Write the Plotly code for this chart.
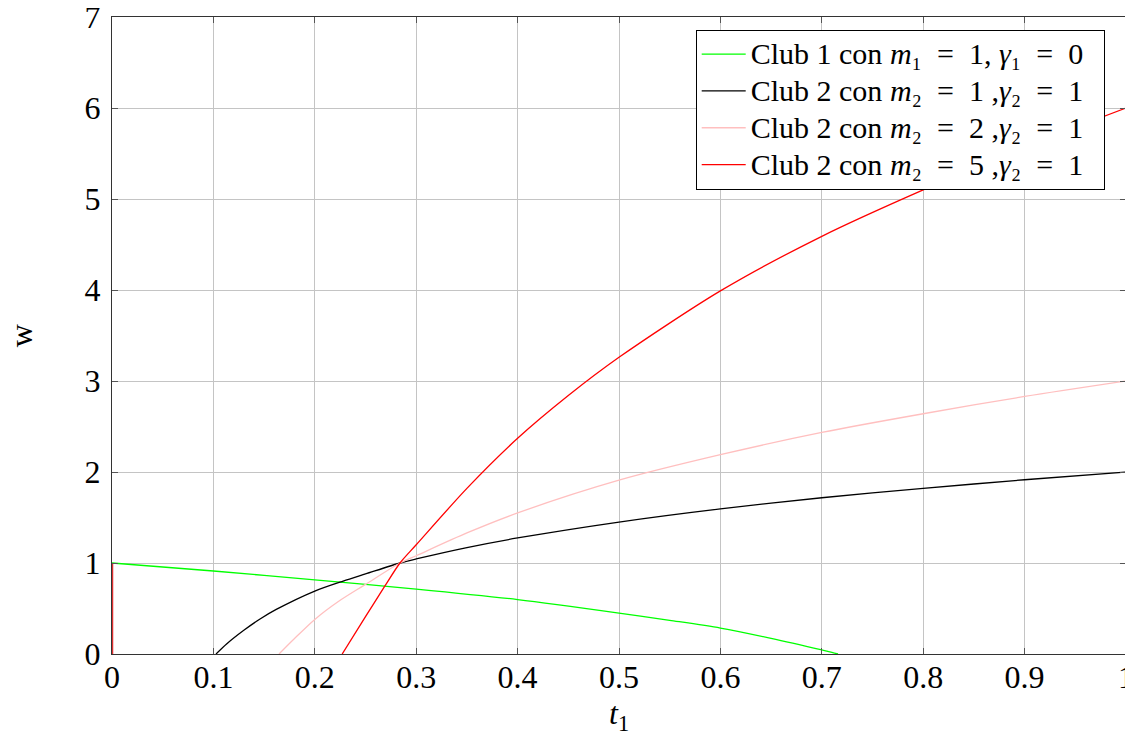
import plotly.graph_objects as go

# Club 1, m1=1, gamma1=0
green_t = [0.0, 0.1, 0.2, 0.3, 0.4, 0.5, 0.55, 0.6, 0.65, 0.7, 0.71, 0.716]
green_w = [1.0, 0.912, 0.815, 0.714, 0.598, 0.45, 0.37, 0.285, 0.172, 0.045, 0.018, 0.0]

# Club 2, m2=1, gamma2=1
black_t = [0.1026, 0.113, 0.13, 0.146, 0.162, 0.2, 0.228, 0.25, 0.284, 0.3, 0.35, 0.4, 0.5, 0.6, 0.7, 0.8, 0.9, 1.0]
black_w = [0.0, 0.11, 0.26, 0.385, 0.49, 0.692, 0.802, 0.88, 1.0, 1.045, 1.17, 1.275, 1.45, 1.595, 1.717, 1.82, 1.915, 2.0]

# Club 2, m2=2, gamma2=1
pink_t = [0.1647, 0.18, 0.2, 0.225, 0.25, 0.284, 0.3, 0.35, 0.4, 0.5, 0.6, 0.7, 0.8, 0.9, 1.0]
pink_w = [0.0, 0.17, 0.38, 0.59, 0.765, 1.0, 1.08, 1.33, 1.55, 1.91, 2.19, 2.435, 2.64, 2.83, 3.0]

# Club 2, m2=5, gamma2=1
red_t = [0.227, 0.25, 0.269, 0.284, 0.3, 0.35, 0.4, 0.45, 0.5, 0.6, 0.7, 0.8, 0.9, 1.0]
red_w = [0.0, 0.41, 0.745, 1.0, 1.20, 1.82, 2.37, 2.84, 3.26, 3.99, 4.59, 5.1, 5.57, 6.0]

# vertical red segment at t1 = 0
red_seg_t = [0.0, 0.0]
red_seg_w = [0.0, 1.0]

SP = "\u2002"
labels = [
    f"Club 1 con <i>m</i>₁{SP}={SP}1, <i>γ</i>₁{SP}={SP}0",
    f"Club 2 con <i>m</i>₂{SP}={SP}1 ,<i>γ</i>₂{SP}={SP}1",
    f"Club 2 con <i>m</i>₂{SP}={SP}2 ,<i>γ</i>₂{SP}={SP}1",
    f"Club 2 con <i>m</i>₂{SP}={SP}5 ,<i>γ</i>₂{SP}={SP}1",
]
names = [f'<span style="font-size:30px">{s}{SP}</span>' for s in labels]

FONT = "Liberation Serif"
FS = 32

fig = go.Figure()
fig.add_trace(go.Scatter(x=green_t, y=green_w, mode="lines", name=names[0],
                         line=dict(color="#00ff00", width=1.3, shape="spline", smoothing=0.8)))
fig.add_trace(go.Scatter(x=black_t, y=black_w, mode="lines", name=names[1],
                         line=dict(color="#000000", width=1.3, shape="spline", smoothing=0.8)))
fig.add_trace(go.Scatter(x=pink_t, y=pink_w, mode="lines", name=names[2],
                         line=dict(color="#ffbfbf", width=1.3, shape="spline", smoothing=0.8)))
fig.add_trace(go.Scatter(x=red_t, y=red_w, mode="lines", name=names[3],
                         line=dict(color="#ff0000", width=1.3, shape="spline", smoothing=0.8)))
fig.add_trace(go.Scatter(x=red_seg_t, y=red_seg_w, mode="lines", showlegend=False,
                         line=dict(color="#e03030", width=2.5), cliponaxis=False))

axis_common = dict(
    showgrid=True, gridcolor="#c4c4c4", gridwidth=1,
    showline=True, linecolor="#333333", linewidth=1,
    mirror="ticks", ticks="inside", ticklen=6, tickcolor="#555555",
    zeroline=False, automargin=False, ticklabeloverflow="allow",
    tickfont=dict(family=FONT, size=FS, color="black"),
)

fig.update_layout(
    width=1125, height=724,
    margin=dict(l=104, r=7, t=9, b=78),
    paper_bgcolor="white", plot_bgcolor="white",
    font=dict(family=FONT, size=FS, color="black"),
    xaxis=dict(range=[0, 1], dtick=0.1, tick0=0, ticklabelstandoff=-5,
               **axis_common),
    yaxis=dict(range=[0, 7], dtick=1, tick0=0, ticklabelstandoff=4,
               **axis_common),
    legend=dict(x=0.979, y=0.98, xanchor="right", yanchor="top",
                bgcolor="white", bordercolor="black", borderwidth=1,
                font=dict(family=FONT, size=26), tracegroupgap=0,
                itemwidth=44, traceorder="normal"),
    showlegend=True,
    annotations=[
        dict(text="<i>t</i><sub>1</sub>", xref="paper", yref="paper",
             x=0.5, y=-0.096, xanchor="center", yanchor="middle",
             showarrow=False, font=dict(family=FONT, size=FS)),
        dict(text="w", xref="paper", yref="paper",
             x=-0.09, y=0.5, xanchor="center", yanchor="middle",
             textangle=-90, showarrow=False, font=dict(family=FONT, size=FS)),
    ],
)

fig.write_html("out.html")
